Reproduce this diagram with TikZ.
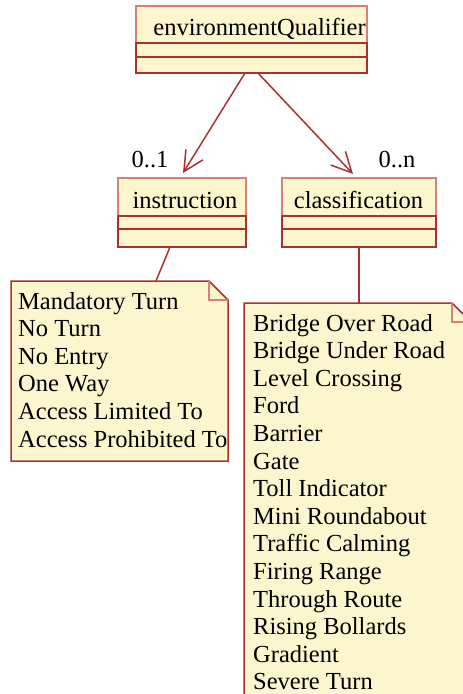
\documentclass[tikz,border=0pt]{standalone}
\usepackage{fontspec}
\setmainfont{Liberation Serif}
\usetikzlibrary{arrows.meta,positioning,calc}
\definecolor{umlfill}{RGB}{251,246,206}
\definecolor{umlline}{RGB}{168,50,50}
\definecolor{umlpale}{RGB}{214,128,118}

\begin{document}
\begin{tikzpicture}[x=1pt, y=-1pt,
  font=\fontsize{24.5}{27.6}\selectfont,
  classhead/.style={draw=umlpale, fill=umlfill, line width=1.5pt, outer sep=0pt},
  classpart/.style={draw=umlline, fill=umlfill, line width=1.5pt, outer sep=0pt},
  notebox/.style={inner sep=0pt, outer sep=0pt},
  notetext/.style={align=left, inner sep=0pt},
  noteline/.style={draw=umlline, fill=umlfill, line width=1.5pt},
  foldline/.style={draw=umlpale, line width=1.5pt},
  assoc/.style={draw=umlline, line width=1.5pt},
  navig/.style={assoc, -{Straight Barb[length=20pt, width=20pt]}}
]
\clip (0,0) rectangle (463,694);

% Class environmentQualifier
\node[classhead, minimum width=231pt, minimum height=37pt] (envq) at (251.5,24.5) {};
\node[classpart, minimum width=231pt, minimum height=14pt, below=0pt of envq] (envqattr) {};
\node[classpart, minimum width=231pt, minimum height=16pt, below=0pt of envqattr] (envqops) {};
\node[anchor=base] (envqname) at (259.5,35) {environmentQualifier};

% Class instruction
\node[classhead, minimum width=128pt, minimum height=38pt] (instr) at (182,197) {};
\node[classpart, minimum width=128pt, minimum height=13pt, below=0pt of instr] (instrattr) {};
\node[classpart, minimum width=128pt, minimum height=18pt, below=0pt of instrattr] (instrops) {};
\node[anchor=base] (instrname) at (185,208) {instruction};

% Class classification
\node[classhead, minimum width=154pt, minimum height=38pt] (classif) at (359,197) {};
\node[classpart, minimum width=154pt, minimum height=13pt, below=0pt of classif] (classattr) {};
\node[classpart, minimum width=154pt, minimum height=18pt, below=0pt of classattr] (classops) {};
\node[anchor=base] (classname) at (358.5,208) {classification};

% Associations
\draw[navig] ($(envqops.south)+(-6.5,0)$) -- ($(instr.north)+(1,-5)$);
\draw[navig] ($(envqops.south)+(6.5,0)$) -- ($(classif.north)+(-6,-4)$);
\node[anchor=base] (instrmult) at (150,167) {0..1};
\node[anchor=base] (classmult) at (397,167) {0..n};

% Note with instruction values
\node[notebox, minimum width=217pt, minimum height=180pt, anchor=north west] (instrnote) at (11,281) {};
\draw[noteline] (instrnote.north west) -- ($(instrnote.north east)+(-19,0)$)
  -- ($(instrnote.north east)+(0,19)$) -- (instrnote.south east) -- (instrnote.south west) -- cycle;
\draw[foldline] ($(instrnote.north east)+(-19,0)$) -- ($(instrnote.north east)+(-19,19)$)
  -- ($(instrnote.north east)+(0,19)$);
\node[notetext, below right=10.8pt and 7pt of instrnote.north west] (instrlist) {%
Mandatory Turn\\
No Turn\\
No Entry\\
One Way\\
Access Limited To\\
Access Prohibited To};
\draw[assoc] ($(instrops.south)+(-12,0)$) -- ($(instrnote.north west)+(145,0)$);

% Note with classification values
\node[notebox, minimum width=227pt, minimum height=400pt, anchor=north west] (classnote) at (244,303) {};
\draw[noteline] (classnote.north west) -- ($(classnote.north east)+(-19,0)$)
  -- ($(classnote.north east)+(0,19)$) -- (classnote.south east) -- (classnote.south west) -- cycle;
\draw[foldline] ($(classnote.north east)+(-19,0)$) -- ($(classnote.north east)+(-19,19)$)
  -- ($(classnote.north east)+(0,19)$);
\node[notetext, below right=10.8pt and 9pt of classnote.north west] (classlist) {%
Bridge Over Road\\
Bridge Under Road\\
Level Crossing\\
Ford\\
Barrier\\
Gate\\
Toll Indicator\\
Mini Roundabout\\
Traffic Calming\\
Firing Range\\
Through Route\\
Rising Bollards\\
Gradient\\
Severe Turn};
\draw[assoc] (classops.south) -- (classops.south |- classnote.north);

\end{tikzpicture}
\end{document}
